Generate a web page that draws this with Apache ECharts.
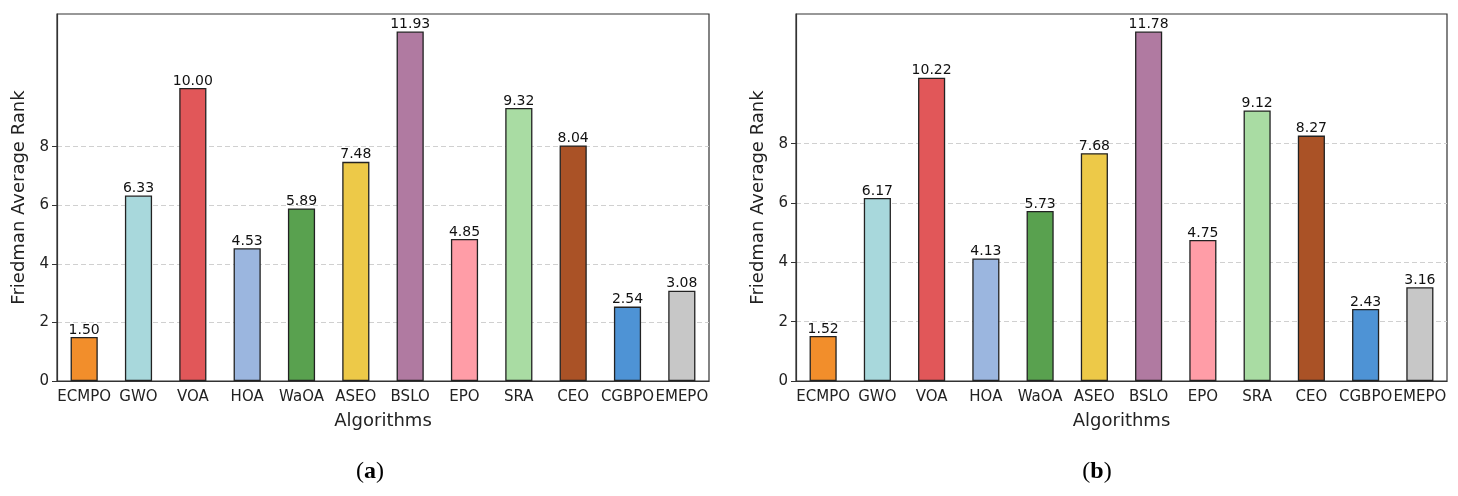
<!DOCTYPE html>
<html>
<head>
<meta charset="utf-8">
<script src="https://cdn.jsdelivr.net/npm/echarts@6/dist/echarts.min.js"></script>
</head>
<body style="margin: 0; background: #fff">
<div id="container" style="width: 1458px; height: 496px"></div>
<script type="text/javascript">
// categories and the two sets of Friedman ranks
var algorithms = ['ECMPO', 'GWO', 'VOA', 'HOA', 'WaOA', 'ASEO', 'BSLO', 'EPO', 'SRA', 'CEO', 'CGBPO', 'EMEPO'];
var rankA = [1.50, 6.33, 10.00, 4.53, 5.89, 7.48, 11.93, 4.85, 9.32, 8.04, 2.54, 3.08];
var rankB = [1.52, 6.17, 10.22, 4.13, 5.73, 7.68, 11.78, 4.75, 9.12, 8.27, 2.43, 3.16];
var yTicks = [0, 2, 4, 6, 8];
var captions = ['a', 'b'];
var barColors = ['#f28e2b', '#a8d8dc', '#e15759', '#9bb6df', '#59a14f', '#edc948',
	'#b07aa1', '#ff9da7', '#a9dca3', '#aa5226', '#4e93d5', '#c7c7c7'];

var font = 'DejaVu Sans';
var chart = echarts.init(document.getElementById('container'));

function makeData(vals) {
	return vals.map(function(v, i) {
		return { value: v, itemStyle: { color: barColors[i] } };
	});
}

function xAxisFor(idx) {
	return {
		type: 'category',
		gridIndex: idx,
		data: algorithms,
		name: 'Algorithms',
		nameLocation: 'middle',
		nameGap: 31,
		nameTextStyle: { fontFamily: font, fontSize: 18, color: '#222' },
		axisLine: { lineStyle: { color: '#333', width: 1.2 } },
		axisTick: { alignWithLabel: true, length: 5, lineStyle: { color: '#333' } },
		axisLabel: { interval: 0, margin: 9, fontFamily: font, fontSize: 15, color: '#222' }
	};
}

function yAxisFor(idx, max) {
	return {
		type: 'value',
		gridIndex: idx,
		min: 0,
		max: max,
		interval: 2,
		name: 'Friedman Average Rank',
		nameLocation: 'middle',
		nameGap: 29,
		nameTextStyle: { fontFamily: font, fontSize: 18, color: '#222' },
		axisLine: { show: true, lineStyle: { color: '#333', width: 1.2 } },
		axisTick: { show: true, length: 5, customValues: yTicks, lineStyle: { color: '#333' } },
		axisLabel: { margin: 8, customValues: yTicks, fontFamily: font, fontSize: 15, color: '#222' },
		splitLine: { show: true, lineStyle: { color: '#d0d0d0', type: [5, 3], width: 1 } }
	};
}

function seriesFor(idx, vals) {
	return {
		type: 'bar',
		xAxisIndex: idx,
		yAxisIndex: idx,
		barWidth: '50%',
		data: makeData(vals),
		itemStyle: { borderColor: '#222', borderWidth: 1.3 },
		label: {
			show: true,
			position: 'top',
			distance: 0,
			fontFamily: font,
			fontSize: 14,
			color: '#111',
			formatter: function(p) { return p.value.toFixed(2); }
		}
	};
}

function caption(letter, x) {
	return {
		text: '{p|(}{b|' + letter + '}{p|)}', left: x, top: 455, textAlign: 'center',
		textStyle: {
			fontWeight: 'normal',
			rich: {
				p: { fontFamily: 'Liberation Serif', fontSize: 24, fontWeight: 'normal', color: '#000' },
				b: { fontFamily: 'Liberation Serif', fontSize: 24, fontWeight: 'bold', color: '#000' }
			}
		}
	};
}

var option = {
	animation: false,
	title: [caption(captions[0], 365), caption(captions[1], 1092)],
	grid: [
		{ left: 57, top: 14, width: 652, height: 367, show: true, borderColor: '#333', borderWidth: 1.2, containLabel: false },
		{ left: 796, top: 14, width: 651, height: 367, show: true, borderColor: '#333', borderWidth: 1.2, containLabel: false }
	],
	xAxis: [xAxisFor(0), xAxisFor(1)],
	yAxis: [yAxisFor(0, 11.93 * 1.05), yAxisFor(1, 11.78 * 1.05)],
	series: [seriesFor(0, rankA), seriesFor(1, rankB)]
};
chart.setOption(option);
</script>
</body>
</html>
